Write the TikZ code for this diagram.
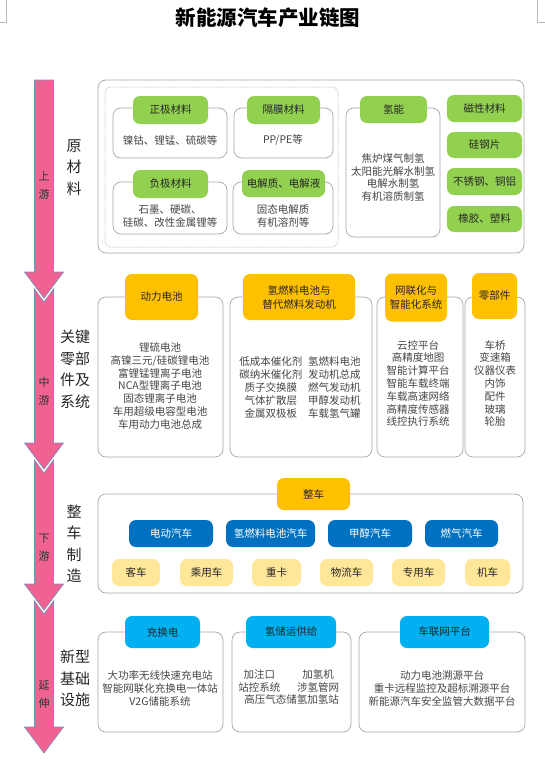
\documentclass[tikz,border=0pt]{standalone}
\usepackage{fontspec}
\setmainfont{Noto Sans CJK SC}

\definecolor{arrowpink}{RGB}{240,98,146}
\definecolor{arrowline}{RGB}{125,145,190}
\definecolor{matgreen}{RGB}{146,208,80}
\definecolor{partgold}{RGB}{255,192,0}
\definecolor{carblue}{RGB}{0,112,192}
\definecolor{infracyan}{RGB}{0,176,240}
\definecolor{typecream}{RGB}{255,230,153}
\definecolor{boxgray}{RGB}{166,166,166}
\definecolor{bodytext}{RGB}{70,70,70}

\newcommand\txtbody{\fontsize{10.5}{12.8}\selectfont}
\newcommand\txthead{\fontsize{10.5}{14}\selectfont}
\newcommand\txtside{\fontsize{15}{21.5}\selectfont}
\newcommand\txtflow{\fontsize{11}{18}\selectfont}

\tikzset{
  panel/.style={draw=boxgray, line width=0.7pt, rounded corners=8pt, fill=white},
  tagbox/.style={rounded corners=7pt, inner sep=0pt, align=center, font=\txthead, text=black!85},
  greentag/.style={tagbox, fill=matgreen},
  goldtag/.style={tagbox, fill=partgold},
  bluetag/.style={tagbox, fill=carblue, text=white},
  cyantag/.style={tagbox, fill=infracyan},
  creamtag/.style={tagbox, fill=typecream},
  bodytxt/.style={align=center, font=\txtbody, text=bodytext, inner sep=0pt},
  sidetxt/.style={align=center, font=\txtside, text=black!85, inner sep=0pt},
  flowtxt/.style={align=center, font=\txtflow, text=black!80, inner sep=0pt},
  flowarrow/.style={fill=arrowpink, draw=arrowline, line width=0.6pt}
}

\begin{document}
\begin{tikzpicture}[x=1pt, y=-1pt]
    \useasboundingbox (0,0) rectangle (545,760);

    % page corner marks
    \draw[gray!55, line width=0.6pt] (6,0) -- (6,22) -- (0,22);
    \draw[gray!55, line width=0.6pt] (537,0) -- (537,22) -- (545,22);

    \node[font=\fontsize{20.5}{24}\selectfont\bfseries] (title) at (268,18) {新能源汽车产业链图};

    % the four stage arrows
    \draw[flowarrow] (34.5,80) -- (53.5,80) -- (53.5,272) -- (63.5,272) -- (44,298)
        -- (24.5,272) -- (34.5,272) -- cycle;
    \draw[flowarrow] (34.5,289) -- (44,302) -- (53.5,289) -- (53.5,443) -- (63.5,443)
        -- (44,469) -- (24.5,443) -- (34.5,443) -- cycle;
    \draw[flowarrow] (34.5,460) -- (44,473) -- (53.5,460) -- (53.5,584) -- (63.5,584)
        -- (44,610) -- (24.5,584) -- (34.5,584) -- cycle;
    \draw[flowarrow] (34.5,601) -- (44,614) -- (53.5,601) -- (53.5,727) -- (63.5,727)
        -- (44,753) -- (24.5,727) -- (34.5,727) -- cycle;

    \node[flowtxt] (up) at (44,185) {上\\游};
    \node[flowtxt] (mid) at (44,391) {中\\游};
    \node[flowtxt] (down) at (44,547.5) {下\\游};
    \node[flowtxt] (ext) at (44,694) {延\\伸};

    \node[sidetxt] (raw) at (74,167.5) {原\\材\\料};
    \node[sidetxt] (parts) at (75,369.5) {关键\\零部\\件及\\系统};
    \node[sidetxt] (build) at (74,543.5) {整\\车\\制\\造};
    \node[sidetxt] (infra) at (75,678.5) {新型\\基础\\设施};

    % upstream: raw materials
    \draw[panel] (98,80) rectangle (524,253);
    \draw[boxgray, line width=0.5pt, dash pattern=on 1.2pt off 1.2pt, rounded corners=6pt]
        (105,87) rectangle (338,247);
    \draw[panel] (113,108) rectangle (227,158);
    \draw[panel] (234,108) rectangle (333,158);
    \draw[panel] (113,182) rectangle (227,234);
    \draw[panel] (233,182) rectangle (333,234);
    \draw[panel] (346,108) rectangle (440,237);

    \node[greentag, minimum width=75, minimum height=28] (cathode) at (170.5,110) {正极材料};
    \node[greentag, minimum width=73, minimum height=28] (separator) at (283.5,110) {隔膜材料};
    \node[greentag, minimum width=75, minimum height=28] (anode) at (170.5,184) {负极材料};
    \node[greentag, minimum width=83, minimum height=27] (electrolyte) at (283.5,183.5) {电解质、电解液};
    \node[greentag, minimum width=67, minimum height=27] (hydrogen) at (393.5,109.5) {氢能};
    \node[greentag, minimum width=75, minimum height=27] (magnet) at (484.5,108.5) {磁性材料};
    \node[greentag, minimum width=75, minimum height=26] (sisteel) at (484.5,145) {硅钢片};
    \node[greentag, minimum width=75, minimum height=27] (metal) at (484.5,181.5) {不锈钢、铜铝};
    \node[greentag, minimum width=75, minimum height=26] (rubber) at (484.5,219) {橡胶、塑料};

    \node[bodytxt] (cathodetxt) at (170,140) {镍钴、锂锰、硫碳等};
    \node[bodytxt] (separatortxt) at (283,140) {PP/PE等};
    \node[bodytxt] (anodetxt) at (170,216) {石墨、硬碳、\\硅碳、改性金属锂等};
    \node[bodytxt] (electrolytetxt) at (283,216) {固态电解质\\有机溶剂等};
    \node[bodytxt] (hydrogentxt) at (393,177.5) {焦炉煤气制氢\\太阳能光解水制氢\\电解水制氢\\有机溶质制氢};

    % midstream: key parts and systems
    \draw[panel] (98,297) rectangle (223,457);
    \draw[panel] (230,297) rectangle (372,457);
    \draw[panel] (377,297) rectangle (463,457);
    \draw[panel] (465,297) rectangle (525,457);

    \node[goldtag, minimum width=73, minimum height=46] (battery) at (161.5,297) {动力电池};
    \node[goldtag, minimum width=112, minimum height=46] (fuelcell) at (299,297) {氢燃料电池与\\替代燃料发动机};
    \node[goldtag, minimum width=62, minimum height=48] (smart) at (416,297.5) {网联化与\\智能化系统};
    \node[goldtag, minimum width=45, minimum height=46] (components) at (494.5,296) {零部件};

    \node[bodytxt] (batterytxt) at (160,386) {锂硫电池\\高镍三元/硅碳锂电池\\富锂锰锂离子电池\\NCA型锂离子电池\\固态锂离子电池\\车用超级电容型电池\\车用动力电池总成};
    \node[bodytxt] (fuelcelltxt) at (300,389) {\begin{tabular}{@{}c@{\hspace{6pt}}c@{}}
        低成本催化剂 & 氢燃料电池\\
        碳纳米催化剂 & 发动机总成\\
        质子交换膜 & 燃气发动机\\
        气体扩散层 & 甲醇发动机\\
        金属双极板 & 车载氢气罐
      \end{tabular}};
    \node[bodytxt] (smarttxt) at (418,383.5) {云控平台\\高精度地图\\智能计算平台\\智能车载终端\\车载高速网络\\高精度传感器\\线控执行系统};
    \node[bodytxt] (componentstxt) at (495,383.5) {车桥\\变速箱\\仪器仪表\\内饰\\配件\\玻璃\\轮胎};

    % downstream: vehicles
    \draw[panel] (98,494) rectangle (523,593);
    \node[goldtag, minimum width=73, minimum height=32] (vehicle) at (313.5,494) {整车};

    \node[bluetag, minimum width=84, minimum height=27] (ev) at (171,533.5) {电动汽车};
    \node[bluetag, minimum width=89, minimum height=27] (fcv) at (270.5,533.5) {氢燃料电池汽车};
    \node[bluetag, minimum width=84, minimum height=27] (methanol) at (370,533.5) {甲醇汽车};
    \node[bluetag, minimum width=73, minimum height=27] (gas) at (461.5,533.5) {燃气汽车};

    \node[creamtag, minimum width=48, minimum height=27] (bus) at (136,572.5) {客车};
    \node[creamtag, minimum width=53, minimum height=27] (car) at (206.5,572.5) {乘用车};
    \node[creamtag, minimum width=49, minimum height=27] (truck) at (276.5,572.5) {重卡};
    \node[creamtag, minimum width=53, minimum height=27] (logistics) at (346.5,572.5) {物流车};
    \node[creamtag, minimum width=53, minimum height=27] (special) at (418.5,572.5) {专用车};
    \node[creamtag, minimum width=45, minimum height=27] (loco) at (487.5,572.5) {机车};

    % extension: new infrastructure
    \draw[panel] (98,632) rectangle (223,732);
    \draw[panel] (232,632) rectangle (351,732);
    \draw[panel] (359,632) rectangle (525,732);

    \node[cyantag, minimum width=75, minimum height=32] (charge) at (162.5,632) {充换电};
    \node[cyantag, minimum width=90, minimum height=32] (h2supply) at (291,632) {氢储运供给};
    \node[cyantag, minimum width=89, minimum height=32] (iov) at (444.5,632) {车联网平台};

    \node[bodytxt] (chargetxt) at (160,688.5) {大功率无线快速充电站\\智能网联化充换电一体站\\V2G储能系统};
    \node[bodytxt] (h2supplytxt) at (291.5,688.5) {\begin{tabular}{@{}c@{\hspace{11pt}}c@{}}
        加注口 & 加氢机\\
        站控系统 & 涉氢管网\\
        \multicolumn{2}{c}{高压气态储氢加氢站}
      \end{tabular}};
    \node[bodytxt] (iovtxt) at (442,688.5) {动力电池溯源平台\\重卡远程监控及超标溯源平台\\新能源汽车安全监管大数据平台};
\end{tikzpicture}
\end{document}
